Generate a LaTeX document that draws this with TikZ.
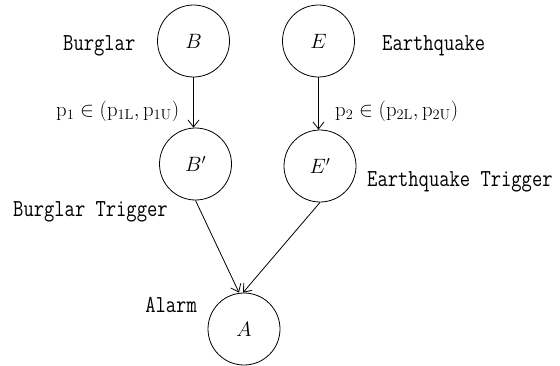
\documentclass[tikz,border=0pt]{standalone}
\usepackage{graphicx}
\usetikzlibrary{arrows.meta}
\newcommand{\talltext}[1]{\scalebox{1}[1.22]{#1}}
\begin{document}
\begin{tikzpicture}[x=1pt,y=-1pt,
  var/.style={circle,draw,line width=0.8pt,minimum size=72pt,inner sep=0pt,font=\fontsize{20}{24}\selectfont},
  lbl/.style={inner sep=0pt,font=\fontsize{20}{24}\selectfont\ttfamily},
  plbl/.style={inner sep=0pt,font=\fontsize{21}{25}\selectfont},
  edge/.style={line width=0.8pt,-{Straight Barb[length=7pt,width=11pt]}}]
\useasboundingbox (0,0) rectangle (560,365);
\node[var] (B) at (193.5,41) {$B$};
\node[var] (E) at (318.5,41) {$E$};
\node[var] (Bp) at (195.5,164) {$B'$};
\node[var] (Ep) at (320,166) {$E'$};
\node[var] (A) at (244,329) {$A$};
\node[lbl,anchor=west] (lB) at (63,46) {\talltext{Burglar}};
\node[lbl,anchor=west] (lE) at (382,46) {\talltext{Earthquake}};
\node[lbl,anchor=west] (lBp) at (13,212) {\talltext{Burglar Trigger}};
\node[lbl,anchor=west] (lEp) at (367,182) {\talltext{Earthquake Trigger}};
\node[lbl,anchor=east] (lA) at (197,305) {\talltext{Alarm}};
\node[plbl,anchor=west] (p1) at (56,111) {$\mathrm{p}_1\in(\mathrm{p}_{1\mathrm{L}},\mathrm{p}_{1\mathrm{U}})$};
\node[plbl,anchor=west] (p2) at (335,111) {$\mathrm{p}_2\in(\mathrm{p}_{2\mathrm{L}},\mathrm{p}_{2\mathrm{U}})$};
\draw[edge] (B.south) -- (B.south |- Bp.north);
\draw[edge] (E.south) -- (E.south |- Ep.north);
\draw[edge] (Bp.south) -- ([xshift=-5pt]A.north);
\draw[edge] (Ep.south) -- ([xshift=-1pt]A.north);
\end{tikzpicture}
\end{document}
